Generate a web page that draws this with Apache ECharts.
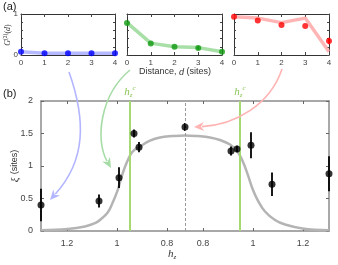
<!DOCTYPE html>
<html><head><meta charset="utf-8">
<script src="https://cdn.jsdelivr.net/npm/echarts@6/dist/echarts.min.js"></script>
<style>html,body{margin:0;padding:0;background:#fff}#c{width:338px;height:265px}</style>
</head><body><div id="c"></div>
<script>
// ---- data: panel (a) ----
const dist = [0, 1, 2, 3, 4];
const blueLine = [0.08, 0.04, 0.04, 0.04, 0.04];
const bluePts  = [0.08, 0.04, 0.04, 0.04, 0.04];
const greenLine = [0.79, 0.29, 0.20, 0.18, 0.08];
const greenPts  = [0.78, 0.28, 0.20, 0.17, 0.08];
const greenErr  = [0, 0, 0, 0.04, 0];
const redLine = [0.93, 0.90, 0.79, 0.90, 0.08];
const redPts  = [0.93, 0.84, 0.73, 0.71, 0.34];
const redErr  = [0, 0, 0, 0, 0.08];
// ---- data: panel (b) ----  (x = signed position along the mirrored hz axis)
const hzPos = [-0.576, -0.344, -0.264, -0.204, -0.184, 0, 0.184, 0.208, 0.264, 0.348, 0.576];
const xiVal = [0.40, 0.46, 0.82, 1.50, 1.29, 1.60, 1.23, 1.26, 1.32, 0.72, 0.88];
const xiErr = [0.25, 0.10, 0.16, 0.06, 0.08, 0.06, 0.07, 0.05, 0.20, 0.18, 0.27];
const curveX = [-0.576, -0.47, -0.40, -0.36, -0.34, -0.31, -0.29, -0.27, -0.25, -0.23, -0.21, -0.18, -0.14, -0.10, -0.05, 0,
                0.05, 0.10, 0.14, 0.18, 0.21, 0.23, 0.25, 0.27, 0.29, 0.32, 0.36, 0.40, 0.47, 0.576];
const curveY = [0.01, 0.03, 0.07, 0.12, 0.17, 0.28, 0.43, 0.62, 0.88, 1.08, 1.22, 1.30, 1.39, 1.44, 1.46, 1.47,
                1.46, 1.44, 1.40, 1.33, 1.22, 1.08, 0.88, 0.65, 0.48, 0.30, 0.17, 0.10, 0.04, 0.01];
const hzCrit = [-0.224, 0.224];
const tickPos = [-0.472, -0.272, -0.072, 0.072, 0.272, 0.472];
const tickLabels = ['1.2', '1', '0.8', '0.8', '1', '1.2'];

const FONT = '"Liberation Sans", Arial, sans-serif';
const SERIF = '"Liberation Serif", "DejaVu Serif", serif';
const chart = echarts.init(document.getElementById('c'), null, {renderer: 'canvas'});

const topGrids = [
  {left: 21, top: 14, width: 94, height: 41},
  {left: 127, top: 14, width: 95, height: 41},
  {left: 234, top: 14, width: 95, height: 41}
];
const grids = topGrids.concat([{left: 41, top: 101, width: 288, height: 130}]);

const xAxis = [], yAxis = [];
const topLine = {onZero: false, lineStyle: {color: '#333', width: 1}};
for (let i = 0; i < 3; i++) {
  xAxis.push({gridIndex: i, type: 'value', min: 0, max: 4, interval: 1, position: 'bottom',
    axisLine: topLine, splitLine: {show: false},
    axisTick: {inside: true, length: 3, lineStyle: {color: '#444'}},
    axisLabel: {fontSize: 8, color: '#444', fontFamily: FONT, margin: 4}});
  xAxis.push({gridIndex: i, type: 'value', min: 0, max: 4, interval: 1, position: 'top',
    axisLine: topLine, splitLine: {show: false},
    axisTick: {inside: true, length: 3, lineStyle: {color: '#444'}}, axisLabel: {show: false}});
  yAxis.push({gridIndex: i, type: 'value', min: 0, max: 1, interval: 0.2, position: 'left',
    axisLine: topLine, splitLine: {show: false},
    axisTick: {inside: true, length: 2, lineStyle: {color: '#444'}},
    axisLabel: {show: i === 0, fontSize: 8, color: '#444', fontFamily: FONT, margin: 3,
      formatter: v => (v === 0 || v === 1) ? String(v) : ''}});
  yAxis.push({gridIndex: i, type: 'value', min: 0, max: 1, interval: 0.2, position: 'right',
    axisLine: topLine, splitLine: {show: false},
    axisTick: {inside: true, length: 2, lineStyle: {color: '#444'}}, axisLabel: {show: false}});
}
const botLine = {onZero: false, lineStyle: {color: '#8c8c8c', width: 1.5}};
function lab(v) {
  let best = 0;
  for (let k = 1; k < tickPos.length; k++) if (Math.abs(tickPos[k] - v) < Math.abs(tickPos[best] - v)) best = k;
  return tickLabels[best];
}
xAxis.push({gridIndex: 3, type: 'value', min: -0.576, max: 0.576, position: 'bottom',
  axisLine: botLine, splitLine: {show: false},
  axisTick: {inside: true, length: 3, customValues: tickPos, lineStyle: {color: '#666'}},
  axisLabel: {customValues: tickPos, formatter: lab, fontSize: 9, color: '#444', fontFamily: FONT, margin: 8}});
xAxis.push({gridIndex: 3, type: 'value', min: -0.576, max: 0.576, position: 'top',
  axisLine: botLine, splitLine: {show: false},
  axisTick: {inside: true, length: 3, customValues: tickPos, lineStyle: {color: '#666'}},
  axisLabel: {show: false}});
yAxis.push({gridIndex: 3, type: 'value', min: 0, max: 2, interval: 0.5, position: 'left',
  axisLine: botLine, splitLine: {show: false},
  axisTick: {inside: true, length: 3, lineStyle: {color: '#666'}},
  axisLabel: {fontSize: 9, color: '#444', fontFamily: FONT, margin: 8}});
yAxis.push({gridIndex: 3, type: 'value', min: 0, max: 2, interval: 0.5, position: 'right',
  axisLine: botLine, splitLine: {show: false},
  axisTick: {inside: true, length: 3, lineStyle: {color: '#666'}}, axisLabel: {show: false}});

function errSeries(xi, yi, data, color, w) {
  return {type: 'custom', xAxisIndex: xi, yAxisIndex: yi, clip: false, z: 4,
    encode: {x: 0, y: 1},
    data: data,
    renderItem: function (params, api) {
      const x = api.value(0), y = api.value(1), e = api.value(2);
      if (!e) return null;
      const p1 = api.coord([x, y - e]), p2 = api.coord([x, y + e]);
      return {type: 'line', shape: {x1: p1[0], y1: p1[1], x2: p2[0], y2: p2[1]},
        style: {stroke: color, lineWidth: w}};
    }};
}

const panels = [
  {line: blueLine, pts: bluePts, err: null, lc: 'rgba(150,155,255,0.7)', pc: '#0000ff'},
  {line: greenLine, pts: greenPts, err: greenErr, lc: 'rgba(130,210,130,0.7)', pc: '#109a10'},
  {line: redLine, pts: redPts, err: redErr, lc: 'rgba(255,150,150,0.7)', pc: '#ff0000'}
];
const series = [];
panels.forEach((p, i) => {
  series.push({type: 'line', xAxisIndex: 2 * i, yAxisIndex: 2 * i, clip: false, symbol: 'none',
    lineStyle: {color: p.lc, width: 3.5}, data: dist.map((d, k) => [d, p.line[k]]), z: 2});
  if (p.err) series.push(errSeries(2 * i, 2 * i, dist.map((d, k) => [d, p.pts[k], p.err[k]]), p.pc, 1.5));
  series.push({type: 'scatter', xAxisIndex: 2 * i, yAxisIndex: 2 * i, clip: false, symbolSize: 6,
    itemStyle: {color: p.pc}, data: dist.map((d, k) => [d, p.pts[k]]), z: 5});
});
const hzRich = {
  h: {fontSize: 11, fontStyle: 'italic', fontFamily: SERIF, lineHeight: 14},
  z: {fontSize: 7, fontStyle: 'italic', fontFamily: SERIF, verticalAlign: 'bottom', lineHeight: 7},
  c: {fontSize: 7, fontStyle: 'italic', fontFamily: SERIF, verticalAlign: 'top', lineHeight: 7}
};
series.push({type: 'line', xAxisIndex: 6, yAxisIndex: 6, clip: true, symbol: 'none', smooth: 0.4,
  lineStyle: {color: '#b4b4b4', width: 2.5}, data: curveX.map((x, k) => [x, curveY[k]]), z: 2,
  markLine: {silent: true, symbol: ['none', 'none'], animation: false,
    data: [
      {xAxis: hzCrit[0], lineStyle: {color: '#a6d874', width: 2, type: 'solid'},
        label: {show: true, position: 'end', distance: 2, color: '#8cc75a', formatter: '{h|h}{z|z}{c|c}', rich: hzRich}},
      {xAxis: hzCrit[1], lineStyle: {color: '#a6d874', width: 2, type: 'solid'},
        label: {show: true, position: 'end', distance: 2, color: '#8cc75a', formatter: '{h|h}{z|z}{c|c}', rich: hzRich}},
      {xAxis: 0, lineStyle: {color: '#999', width: 1, type: [3, 2]}, label: {show: false}}
    ]}});
series.push(errSeries(6, 6, hzPos.map((x, k) => [x, xiVal[k], xiErr[k]]), '#000', 1.8));
series.push({type: 'scatter', xAxisIndex: 6, yAxisIndex: 6, clip: false, symbolSize: 7,
  itemStyle: {color: '#000'}, data: hzPos.map((x, k) => [x, xiVal[k]]), z: 5});

// curved arrows
function arrow(P0, P1, P2, P3, color) {
  const dx = P3[0] - P2[0], dy = P3[1] - P2[1], L = Math.hypot(dx, dy);
  const ux = dx / L, uy = dy / L, len = 10, hw = 4.5;
  const bx = P3[0] - ux * len, by = P3[1] - uy * len;
  return [
    {type: 'bezierCurve', shape: {x1: P0[0], y1: P0[1], cpx1: P1[0], cpy1: P1[1], cpx2: P2[0], cpy2: P2[1],
      x2: bx + ux * 2, y2: by + uy * 2}, style: {stroke: color, lineWidth: 1.6, fill: null}, z: 10},
    {type: 'polygon', shape: {points: [[P3[0], P3[1]], [bx - uy * hw, by + ux * hw], [bx + ux * 3, by + uy * 3], [bx + uy * hw, by - ux * hw]]},
      style: {fill: color}, z: 10}
  ];
}
const graphic = [].concat(
  arrow([69, 72], [86, 120], [86, 160], [50, 200], '#b3b5ff'),
  arrow([130, 70], [100, 95], [95, 140], [111, 168], '#a6dca6'),
  arrow([282, 69], [270, 105], [235, 125], [194, 127], '#ffb3b3'),
  [
    {type: 'text', left: 3, top: 1, style: {text: '(a)', fontSize: 11, fontFamily: FONT, fill: '#222'}},
    {type: 'text', left: 3, top: 88, style: {text: '(b)', fontSize: 11, fontFamily: FONT, fill: '#222'}},
    {type: 'text', x: 175, y: 72, style: {text: 'Distance, {i|d} (sites)', fontSize: 9, fontFamily: FONT, fill: '#333',
      align: 'center', verticalAlign: 'middle', rich: {i: {fontStyle: 'italic', fontSize: 9, fontFamily: FONT}}}},
    {type: 'text', x: 8, y: 35, rotation: Math.PI / 2, style: {text: '{g|G}{s|(2)}{n|(}{i|d}{n|)}', fill: '#333',
      align: 'center', verticalAlign: 'middle',
      rich: {g: {fontSize: 8, fontStyle: 'italic', fontFamily: SERIF, lineHeight: 10},
             s: {fontSize: 5.5, fontFamily: SERIF, verticalAlign: 'top', lineHeight: 6},
             n: {fontSize: 8, fontFamily: SERIF, lineHeight: 10},
             i: {fontSize: 8, fontStyle: 'italic', fontFamily: SERIF, lineHeight: 10}}}},
    {type: 'text', x: 15, y: 166, rotation: Math.PI / 2, style: {text: '{x|ξ} {n|(sites)}', fill: '#333',
      align: 'center', verticalAlign: 'middle',
      rich: {x: {fontSize: 11, fontStyle: 'italic', fontFamily: SERIF}, n: {fontSize: 9, fontFamily: FONT}}}},
    {type: 'text', x: 172, y: 254, style: {text: '{h|h}{z|z}', fill: '#333', align: 'center', verticalAlign: 'middle',
      rich: {h: {fontSize: 11, fontStyle: 'italic', fontFamily: SERIF, lineHeight: 14},
             z: {fontSize: 7, fontStyle: 'italic', fontFamily: SERIF, verticalAlign: 'bottom', lineHeight: 8}}}}
  ]);

chart.setOption({animation: false, grid: grids, xAxis: xAxis, yAxis: yAxis, series: series, graphic: graphic});
</script></body></html>
